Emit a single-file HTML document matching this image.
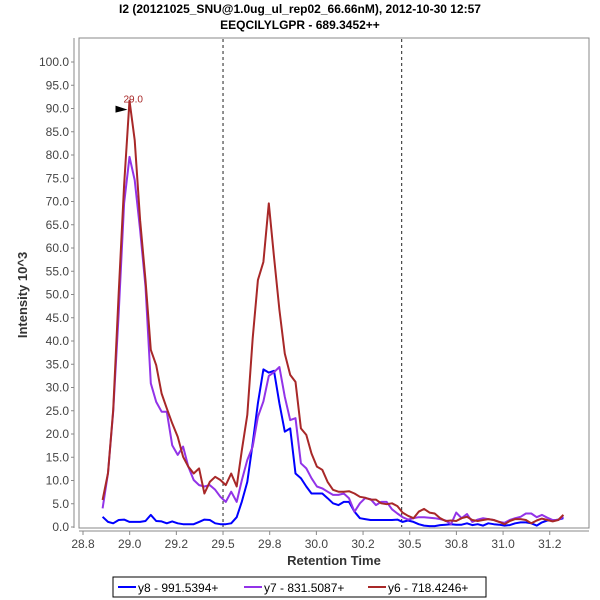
<!DOCTYPE html>
<html><head><meta charset="utf-8"><style>
html,body{margin:0;padding:0;background:#fff;}
svg{display:block;font-family:"Liberation Sans",sans-serif;}
</style></head><body>
<svg id="chart" width="600" height="600" viewBox="0 0 600 600" xmlns="http://www.w3.org/2000/svg">
<rect x="0" y="0" width="600" height="600" fill="#fff"/>
<text x="300" y="13" text-anchor="middle" font-size="12" font-weight="bold" fill="#000">I2 (20121025_SNU@1.0ug_ul_rep02_66.66nM), 2012-10-30 12:57</text>
<text x="300" y="29" text-anchor="middle" font-size="12" font-weight="bold" fill="#000">EEQCILYLGPR - 689.3452++</text>
<rect x="79" y="38" width="510" height="490" fill="#fff" stroke="#888" stroke-width="1"/>
<g id="yaxis"></g>
<g id="xaxis"></g>
<g id="marks"></g>
<text transform="translate(27,295) rotate(-90)" text-anchor="middle" font-size="13" font-weight="bold" fill="#333">Intensity 10^3</text>
<text x="334" y="565" text-anchor="middle" font-size="13" font-weight="bold" fill="#333">Retention Time</text>
<g>
<rect x="113" y="577" width="373" height="20" fill="#fff" stroke="#000" stroke-width="1"/>
<line x1="118" y1="587" x2="136" y2="587" stroke="#0000ff" stroke-width="2"/>
<text x="138" y="592" font-size="12" fill="#000">y8 - 991.5394+</text>
<line x1="244" y1="587" x2="262" y2="587" stroke="#9233e8" stroke-width="2"/>
<text x="264" y="592" font-size="12" fill="#000">y7 - 831.5087+</text>
<line x1="368" y1="587" x2="386" y2="587" stroke="#a82828" stroke-width="2"/>
<text x="388" y="592" font-size="12" fill="#000">y6 - 718.4246+</text>
</g>
</svg>
<script>
const times = [28.855,28.884,28.912,28.941,28.970,28.999,29.027,29.056,29.085,29.113,29.142,29.171,29.199,29.228,29.257,29.286,29.314,29.343,29.372,29.400,29.429,29.458,29.486,29.515,29.544,29.573,29.601,29.630,29.659,29.687,29.716,29.745,29.773,29.802,29.831,29.860,29.888,29.917,29.946,29.974,30.003,30.032,30.060,30.089,30.118,30.147,30.175,30.204,30.233,30.261,30.290,30.319,30.347,30.376,30.405,30.434,30.462,30.491,30.520,30.548,30.577,30.606,30.634,30.663,30.692,30.721,30.749,30.778,30.807,30.835,30.864,30.893,30.921,30.950,30.979,31.008,31.036,31.065,31.094,31.122,31.151,31.180,31.208,31.237,31.266,31.295,31.323];
const y8Values = [2.2,1.1,0.8,1.5,1.6,1.1,1.1,1.1,1.3,2.6,1.3,1.2,0.8,1.2,0.8,0.6,0.6,0.6,1.1,1.6,1.5,0.8,0.6,0.6,0.8,2.1,5.5,9.7,18,26.6,33.9,33.2,33.6,26.6,20.5,21.2,11.5,10.5,8.7,7.2,7.2,7.2,6.2,5.1,4.7,5.4,5.4,3.3,1.9,1.7,1.5,1.5,1.5,1.5,1.5,1.6,1.1,1.4,1.1,0.6,0.3,0.2,0.2,0.4,0.5,0.6,0.5,0.5,0.8,0.4,0.6,0.3,0.8,0.6,0.5,0.3,0.4,0.8,1.0,1.0,0.8,0.3,1.0,1.4,1.4,1.6,1.9];
const y7Values = [4.0,11.6,24.8,46,69.6,79.6,74.6,63.9,51.7,30.9,26.9,24.8,24.8,17.6,15.5,17.3,13,10.1,9,8.7,9,8,6.5,5.4,7.6,5.4,10.1,14.4,17.3,23.7,27,32.5,33.3,34.4,28,23,23.4,13.7,12.6,10.5,8.7,8.3,7.6,6.9,6.9,7.2,6.2,3.3,5.1,6.2,6,4.7,5.4,5.4,3.8,2.9,2.1,1.6,1.9,2.1,2.1,2.0,1.9,1.7,1.4,0.6,3.1,1.9,2.8,1.1,1.6,1.9,1.7,1.5,1.1,0.9,1.5,1.9,2.2,2.9,2.9,2.1,2.6,2.0,1.5,1.5,2.2];
const y6Values = [5.8,11.6,25.2,50.3,73.5,91.7,83.2,66,53.1,38.1,34.8,28.7,25.5,22.3,19.4,15.1,13,11.5,12.6,7.2,9.7,10.8,10.1,9,11.5,8.7,16.6,24.1,40.6,53.1,57,69.6,58.1,46.7,37.3,32.7,31.2,21.2,19.8,15.8,13,12.3,9.7,8,7.6,7.6,7.7,7.2,6.5,6.3,5.9,5.9,5.1,4.9,5.1,4.5,3.1,2.4,1.9,3.3,3.9,3.1,2.9,1.9,1.3,1.4,1.3,1.9,2.2,1.5,1.3,1.5,1.7,1.5,1.1,0.6,1.3,1.7,1.7,1.5,0.8,1.4,1.8,1.5,1.2,1.5,2.6];
const yTicks = [0,5,10,15,20,25,30,35,40,45,50,55,60,65,70,75,80,85,90,95,100];
const xTickValues = [28.75,29.0,29.25,29.5,29.75,30.0,30.25,30.5,30.75,31.0,31.25];
const xTickLabels = ["28.8","29.0","29.2","29.5","29.8","30.0","30.2","30.5","30.8","31.0","31.2"];
const markerTimes = [29.5,30.457];
const apexLabel = "29.0";

const NS = "http://www.w3.org/2000/svg";
function xS(t){ return 83 + (t - 28.75) * 186.7; }
function yS(v){ return 527 - v * 4.65; }
function mk(tag, attrs, parent){ const e=document.createElementNS(NS,tag); for(const k in attrs) e.setAttribute(k,attrs[k]); parent.appendChild(e); return e; }

const ya = document.getElementById('yaxis');
mk('line',{x1:74,y1:38,x2:74,y2:528,stroke:'#888','stroke-width':1},ya);
yTicks.forEach(v=>{
  const y=yS(v);
  mk('line',{x1:71,y1:y,x2:74,y2:y,stroke:'#888','stroke-width':1},ya);
  const t=mk('text',{x:69,y:y+4,'text-anchor':'end','font-size':12,fill:'#444'},ya);
  
  
  t.textContent=v.toFixed(1);
});
const xa = document.getElementById('xaxis');
mk('line',{x1:79,y1:531,x2:589,y2:531,stroke:'#888','stroke-width':1},xa);
xTickValues.forEach((v,i)=>{
  const x=xS(v);
  mk('line',{x1:x,y1:531,x2:x,y2:535,stroke:'#888','stroke-width':1},xa);
  const t=mk('text',{x:x,y:548,'text-anchor':'middle','font-size':12,fill:'#444'},xa);
  
  
  t.textContent=xTickLabels[i];
});
const mg = document.getElementById('marks');
markerTimes.forEach(m=>{
  const l=mk('line',{x1:xS(m),y1:39,x2:xS(m),y2:527,stroke:'#222','stroke-width':1,'stroke-dasharray':'3,3'},mg);
  
  
});
function drawSeries(vals,color,name){
  const pts=vals.map((v,i)=>xS(times[i]).toFixed(1)+','+yS(v).toFixed(1)).join(' ');
  const p=mk('polyline',{points:pts,fill:'none',stroke:color,'stroke-width':2,'stroke-linejoin':'round'},mg);
  
  
}
drawSeries(y8Values,'#0000ff','series-y8');
drawSeries(y7Values,'#9233e8','series-y7');
drawSeries(y6Values,'#a82828','series-y6');
// apex annotation
let mi=0; y6Values.forEach((v,i)=>{ if(v>y6Values[mi]) mi=i; });
const ax=xS(times[mi]), ay=yS(y6Values[mi]);
const tri=mk('polygon',{points:(ax-14)+','+(ay+5)+' '+(ax-2)+','+(ay+9)+' '+(ax-14)+','+(ay+12),fill:'#000'},mg);


const at=mk('text',{x:ax-6,y:ay+2,'font-size':10,fill:'#a82828'},mg);


at.textContent=apexLabel;
</script>
</body></html>
